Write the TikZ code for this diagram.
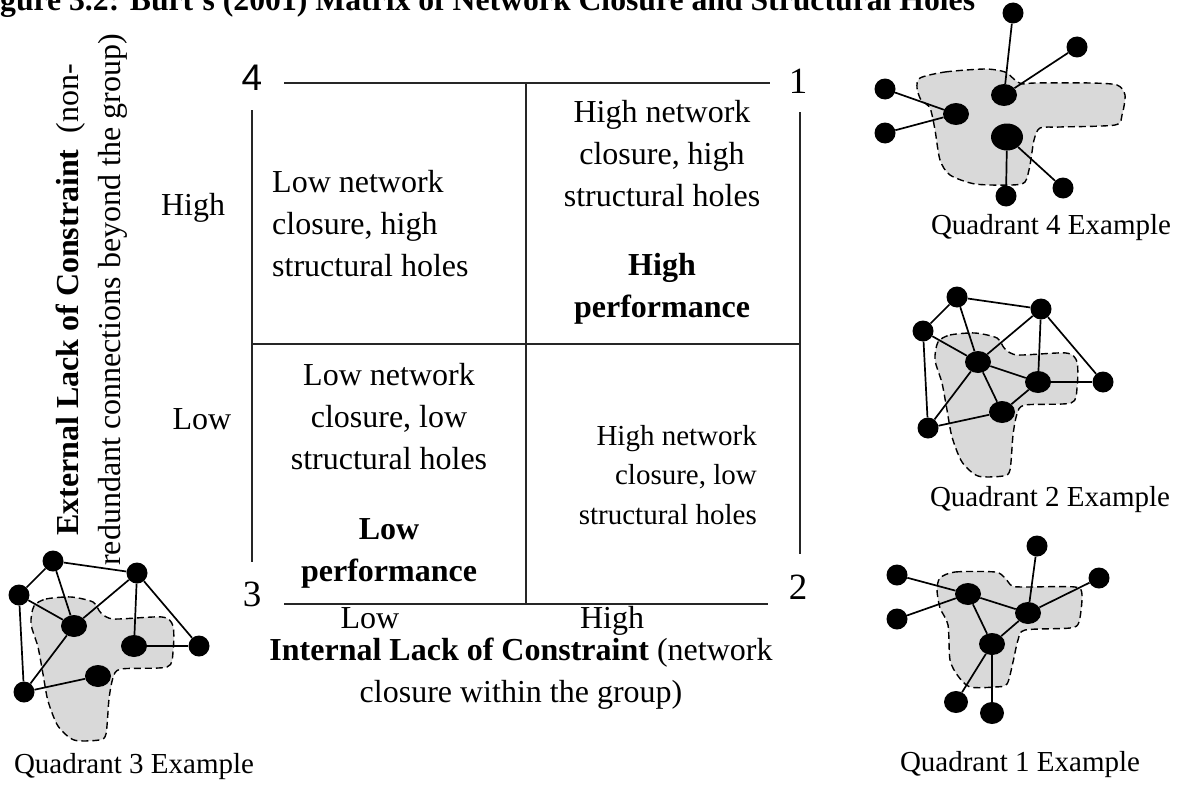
\documentclass[tikz,border=0pt]{standalone}
\usepackage{fontspec}
\setmainfont{Liberation Serif}
\newfontfamily\numsans{Liberation Sans}
\usetikzlibrary{shapes.geometric}

\begin{document}
\begin{tikzpicture}[x=1pt,y=-1pt,
  axisline/.style={line width=1.4pt, draw=black!85},
  bodytext/.style={font=\fontsize{32}{42}\selectfont, inner sep=0pt},
  smalltext/.style={font=\fontsize{29}{39.4}\selectfont, inner sep=0pt},
  cornernum/.style={font=\fontsize{37}{40}\selectfont, inner sep=0pt},
  exlabel/.style={font=\fontsize{29}{36}\selectfont, inner sep=0pt},
  blob/.style={fill=black!15, draw=black, dash pattern=on 7pt off 4pt, line width=1.4pt},
  tie/.style={line width=1.7pt, draw=black},
  outnode/.style={ellipse, fill=black, inner sep=0pt, minimum width=21pt, minimum height=21pt},
  innode/.style={ellipse, fill=black, inner sep=0pt, minimum width=26pt, minimum height=22pt},
  hubnode/.style={ellipse, fill=black, inner sep=0pt, minimum width=32pt, minimum height=27pt},
]
\useasboundingbox (0,0) rectangle (1182,784);
\clip (0,0) rectangle (1182,784);

% heading, partly above the page edge
\node[anchor=base west, inner sep=0pt, font=\fontsize{31.7}{38}\selectfont\bfseries] (title)
  at (-28.2,11) {Figure 3.2: Burt’s (2001) Matrix of Network Closure and Structural Holes};

% ---------- the 2x2 matrix ----------
\draw[axisline] (284,83) -- (770,83);
\draw[axisline] (284,604) -- (768,604);
\draw[axisline] (252,110) -- (252,562);
\draw[axisline] (800,112) -- (800,554);
\draw[axisline] (526,83) -- (526,604);
\draw[axisline] (252,344) -- (800,344);

\node[cornernum, font=\fontsize{37}{40}\selectfont\numsans] (c4) at (252,78) {4};
\node[cornernum] (c1) at (798,81) {1};
\node[cornernum] (c3) at (252,594) {3};
\node[cornernum] (c2) at (798,587) {2};

\node[bodytext, align=left, anchor=west] (qfour) at (272,224)
  {Low network\\closure, high\\structural holes};
\node[bodytext, align=center] (qone) at (662,212)
  {High network\\closure, high\\structural holes\\[27pt]\textbf{High}\\\textbf{performance}};
\node[bodytext, align=center] (qthree) at (389,476)
  {Low network\\closure, low\\structural holes\\[28pt]\textbf{Low}\\\textbf{performance}};
\node[smalltext, align=right, anchor=east] (qtwo) at (757,475)
  {High network\\closure, low\\structural holes};

% axis labels
\node[bodytext, rotate=90, align=center] (ylabel) at (92,300)
  {\textbf{External Lack of Constraint}~ (non-\\redundant connections beyond the group)};
\node[bodytext] (yhigh) at (193,208) {High};
\node[bodytext] (ylow) at (202,419) {Low};
\node[bodytext, anchor=base] (xlow) at (370,628) {Low};
\node[bodytext, anchor=base] (xhigh) at (612,628) {High};
\node[bodytext, align=center] (xlabel) at (521,674)
  {\textbf{Internal Lack of Constraint} (network\\closure within the group)};

% ---------- Quadrant 4 example ----------
\draw[blob] plot[smooth cycle, tension=0.45] coordinates {
  (920,78) (945,72) (985,69) (1005,72) (1015,80) (1022,84) (1035,83) (1090,83)
  (1117,85) (1125,95) (1122,115) (1115,125) (1060,127) (1040,128) (1034,140)
  (1030,165) (1025,182) (1012,185) (975,184) (950,175) (940,160) (935,130)
  (930,108) (921,100) (917,88)};
\node[outnode] (a4) at (1013,13) {};
\node[outnode] (b4) at (1077,47) {};
\node[outnode] (d4c) at (885,89) {};
\node[outnode] (d4d) at (885,133) {};
\node[innode] (e4) at (956,114) {};
\node[innode] (f4) at (1004,95) {};
\node[hubnode] (g4) at (1007,137) {};
\node[outnode] (h4) at (1006,196) {};
\node[outnode] (i4) at (1063,188) {};
\draw[tie] (a4) -- (f4);
\draw[tie] (b4) -- (f4);
\draw[tie] (d4c) -- (e4);
\draw[tie] (d4d) -- (e4);
\draw[tie] (g4) -- (h4);
\draw[tie] (g4) -- (i4);
\node[exlabel] (lab4) at (1051,228) {Quadrant 4 Example};

% ---------- Quadrant 2 example ----------
\draw[blob] plot[smooth cycle, tension=0.45] coordinates {
  (938,342) (950,335) (975,333) (997,338) (1005,349) (1018,355) (1066,353)
  (1077,362) (1077,388) (1071,403) (1025,405) (1017,414) (1013,435) (1010,470)
  (1003,476) (978,476) (962,462) (952,437) (947,410) (942,383) (935,360)};
\node[outnode] (q1) at (957,297) {};
\node[outnode] (q2) at (1041,309) {};
\node[outnode] (q3) at (923,331) {};
\node[innode] (q4) at (978,362) {};
\node[innode] (q5) at (1038,382) {};
\node[outnode] (q6) at (1103,382) {};
\node[innode] (q7) at (1002,412) {};
\node[outnode] (q8) at (928,428) {};
\foreach \u/\v in {q1/q2,q1/q3,q1/q4,q3/q4,q3/q8,q2/q4,q2/q5,q2/q6,q4/q5,q4/q7,q4/q8,q5/q7,q5/q6,q7/q8}
  \draw[tie] (\u) -- (\v);
\node[exlabel] (lab2) at (1050,500) {Quadrant 2 Example};

% ---------- Quadrant 3 example (same layout, fewer ties) ----------
\begin{scope}[shift={(-904,264)}]
\draw[blob] plot[smooth cycle, tension=0.45] coordinates {
  (938,342) (950,335) (975,333) (997,338) (1005,349) (1018,355) (1066,353)
  (1077,362) (1077,388) (1071,403) (1025,405) (1017,414) (1013,435) (1010,470)
  (1003,476) (978,476) (962,462) (952,437) (947,410) (942,383) (935,360)};
\node[outnode] (r1) at (957,297) {};
\node[outnode] (r2) at (1041,309) {};
\node[outnode] (r3) at (923,331) {};
\node[innode] (r4) at (978,362) {};
\node[innode] (r5) at (1038,382) {};
\node[outnode] (r6) at (1103,382) {};
\node[innode] (r7) at (1002,412) {};
\node[outnode] (r8) at (928,428) {};
\end{scope}
\foreach \u/\v in {r1/r2,r1/r3,r1/r4,r3/r4,r3/r8,r2/r4,r2/r5,r2/r6,r5/r6,r4/r8,r7/r8}
  \draw[tie] (\u) -- (\v);
\node[exlabel] (lab3) at (134,767) {Quadrant 3 Example};

% ---------- Quadrant 1 example ----------
\draw[blob] plot[smooth cycle, tension=0.45] coordinates {
  (940,578) (955,572) (995,572) (1005,578) (1012,586) (1025,587) (1075,587)
  (1082,595) (1079,622) (1070,628) (1025,630) (1018,640) (1013,662) (1007,684)
  (995,687) (970,687) (958,676) (950,660) (948,625) (940,608) (937,590)};
\node[outnode] (p1) at (897,575) {};
\node[outnode] (p2) at (897,619) {};
\node[innode] (p3) at (968,594) {};
\node[outnode] (p4) at (1037,546) {};
\node[outnode] (p5) at (1099,578) {};
\node[innode] (p6) at (1028,613) {};
\node[innode] (p7) at (992,644) {};
\node[innode, minimum width=24pt] (p8) at (956,702) {};
\node[innode, minimum width=24pt] (p9) at (992,713) {};
\foreach \u/\v in {p1/p3,p2/p3,p3/p6,p3/p7,p4/p6,p5/p6,p6/p7,p7/p8,p7/p9}
  \draw[tie] (\u) -- (\v);
\node[exlabel] (lab1) at (1020,765) {Quadrant 1 Example};

\end{tikzpicture}
\end{document}
